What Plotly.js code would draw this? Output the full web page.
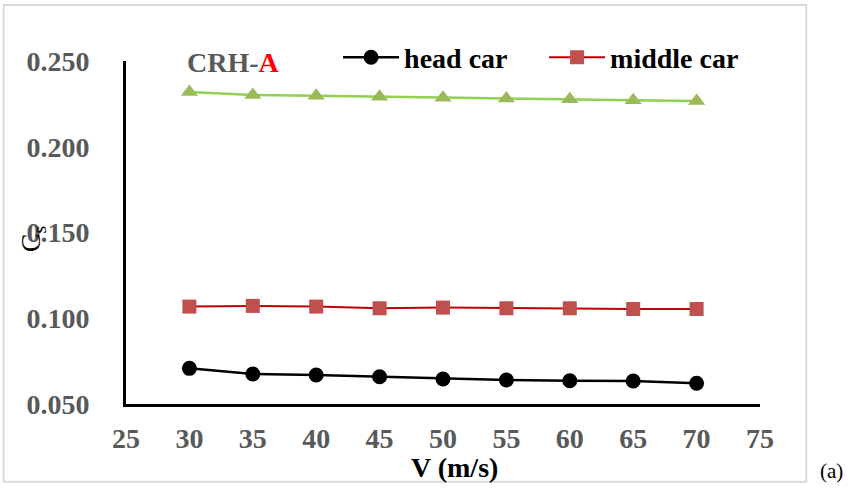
<!DOCTYPE html>
<html>
<head>
<meta charset="utf-8">
<script src="https://cdn.plot.ly/plotly-3.0.1.min.js"></script>
<style>html,body{margin:0;padding:0;background:#fff;}#chart{width:849px;height:497px;}</style>
</head>
<body>
<div id="chart"></div>
<script>
var speeds = [30, 35, 40, 45, 50, 55, 60, 65, 70];
var headCar = [0.0708, 0.0675, 0.0669, 0.0659, 0.0646, 0.0640, 0.0636, 0.0634, 0.0621];
var middleCar = [0.1068, 0.1072, 0.1068, 0.1058, 0.1062, 0.1058, 0.1058, 0.1054, 0.1054];
var tailCar = [0.2319, 0.2302, 0.2298, 0.2292, 0.2286, 0.2281, 0.2277, 0.2271, 0.2267];
var xTicks = [25, 30, 35, 40, 45, 50, 55, 60, 65, 70, 75];
var yTicks = [0.05, 0.10, 0.15, 0.20, 0.25];
var yTickText = ['0.050', '0.100', '0.150', '0.200', '0.250'];

var serif = 'Liberation Serif, Times New Roman, serif';

var traces = [
  {x: speeds, y: tailCar, mode: 'lines+markers', name: 'tail car', showlegend: false,
   line: {color: '#92D050', width: 2.5},
   marker: {symbol: 'triangle-up', size: 15, color: '#9BBB59'}},
  {x: speeds, y: middleCar, mode: 'lines+markers', name: 'middle car',
   line: {color: '#C00000', width: 2},
   marker: {symbol: 'square', size: 14, color: '#C0504D'}},
  {x: speeds, y: headCar, mode: 'lines+markers', name: 'head car',
   line: {color: '#000000', width: 2.5},
   marker: {symbol: 'circle', size: 15, color: '#000000'}}
];

var layout = {
  width: 849, height: 497,
  margin: {l: 126, r: 89, t: 61, b: 93},
  paper_bgcolor: '#ffffff', plot_bgcolor: '#ffffff',
  showlegend: true,
  legend: {orientation: 'h', x: 0.3345, xanchor: 'left', y: 1.01, yanchor: 'middle',
           traceorder: 'reversed', bgcolor: 'rgba(0,0,0,0)', itemwidth: 56,
           entrywidth: 135, entrywidthmode: 'pixels',
           font: {family: serif, size: 28, color: '#000000', weight: 'bold'}},
  xaxis: {range: [25, 75], tickvals: xTicks, ticktext: xTicks.map(String),
          showgrid: false, zeroline: false, showline: true, linecolor: '#000', linewidth: 3,
          ticks: '', ticklabelstandoff: 7,
          tickfont: {family: serif, size: 28, color: '#595959', weight: 'bold'}},
  yaxis: {range: [0.05, 0.25], tickvals: yTicks, ticktext: yTickText,
          showgrid: false, zeroline: false, showline: true, linecolor: '#000', linewidth: 3,
          ticks: '', ticklabelstandoff: 28,
          tickfont: {family: serif, size: 28, color: '#595959', weight: 'bold'}},
  annotations: [
    {xref: 'paper', yref: 'paper', x: 0.169, y: 0.997, xanchor: 'center', yanchor: 'middle', showarrow: false,
     text: '<b><span style="color:#595959">CRH-</span><span style="color:#FF0000">A</span></b>',
     font: {family: serif, size: 28}},
    {xref: 'paper', yref: 'paper', x: 0.518, y: -0.184, xanchor: 'center', yanchor: 'middle', showarrow: false,
     text: '<b>V (m/s)</b>', font: {family: serif, size: 28, color: '#000'}},
    {xref: 'paper', yref: 'paper', x: -0.147, y: 0.48, xanchor: 'center', yanchor: 'middle', showarrow: false,
     textangle: -90, text: 'C<sub>s</sub>', font: {family: serif, size: 28, color: '#000'}},
    {xref: 'paper', yref: 'paper', x: 1.113, y: -0.195, xanchor: 'center', yanchor: 'middle', showarrow: false,
     text: '(a)', font: {family: serif, size: 21, color: '#000'}}
  ],
  shapes: [
    {type: 'rect', xref: 'paper', yref: 'paper', x0: -0.193, x1: 1.073, y0: -0.227, y1: 1.163,
     line: {color: '#D9D9D9', width: 2}, fillcolor: 'rgba(0,0,0,0)', layer: 'below'}
  ]
};

Plotly.newPlot('chart', traces, layout, {displayModeBar: false});
</script>
</body>
</html>
